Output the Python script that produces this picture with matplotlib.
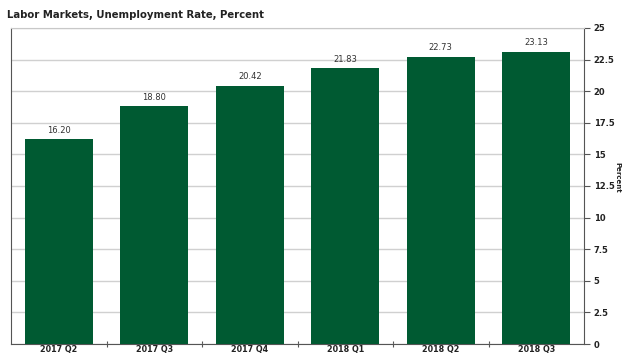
import numpy as np
import matplotlib.pyplot as plt
from matplotlib.ticker import FixedLocator

quarters = ['2017 Q2', '2017 Q3', '2017 Q4', '2018 Q1', '2018 Q2', '2018 Q3']
rates = [16.20, 18.80, 20.42, 21.83, 22.73, 23.13]
yticks = [0, 2.5, 5, 7.5, 10, 12.5, 15, 17.5, 20, 22.5, 25]

fig = plt.figure(figsize=(6.22, 3.54), dpi=100)
ax = fig.add_axes([0.0177, 0.0282, 0.9213, 0.8928])

x = np.arange(len(quarters))
ax.bar(x, rates, width=0.71, color='#005a32', zorder=3)
for xi, v in zip(x, rates):
    ax.text(xi, v + 0.35, '%.2f' % v, ha='center', va='bottom', fontsize=6, color='#333333')

ax.set_xlim(-0.5, len(quarters) - 0.5)
ax.set_ylim(0, 25)
ax.yaxis.tick_right()
ax.set_yticks(yticks)
ax.set_yticklabels(['%g' % t for t in yticks], fontsize=6, fontweight='bold', color='#222222')
ax.tick_params(axis='y', direction='out', length=4, width=0.8, color='#555555', pad=3)
ax.grid(axis='y', color='#d0d0d0', linewidth=1, zorder=0)

ax.set_xticks(x)
ax.set_xticklabels(quarters, fontsize=5.8, fontweight='bold', color='#222222')
ax.tick_params(axis='x', which='major', length=0, pad=1)
ax.xaxis.set_minor_locator(FixedLocator(np.arange(0.5, len(quarters) - 0.5, 1)))
ax.tick_params(axis='x', which='minor', direction='inout', length=4, width=0.8, color='#555555')

for s in ['left', 'bottom', 'right']:
    ax.spines[s].set_color('#555555')
    ax.spines[s].set_linewidth(0.8)
ax.spines['top'].set_color('#c8c8c8')
ax.spines['top'].set_linewidth(0.8)

fig.text(0.992, 0.5, 'Percent', fontsize=5, fontweight='bold', rotation=-90,
         ha='center', va='center', color='#222222')

fig.text(0.012, 0.958, 'Labor Markets, Unemployment Rate, Percent', fontsize=7.3, fontweight='bold',
         color='#222222', va='center')

fig.savefig('out.png', dpi=100)
